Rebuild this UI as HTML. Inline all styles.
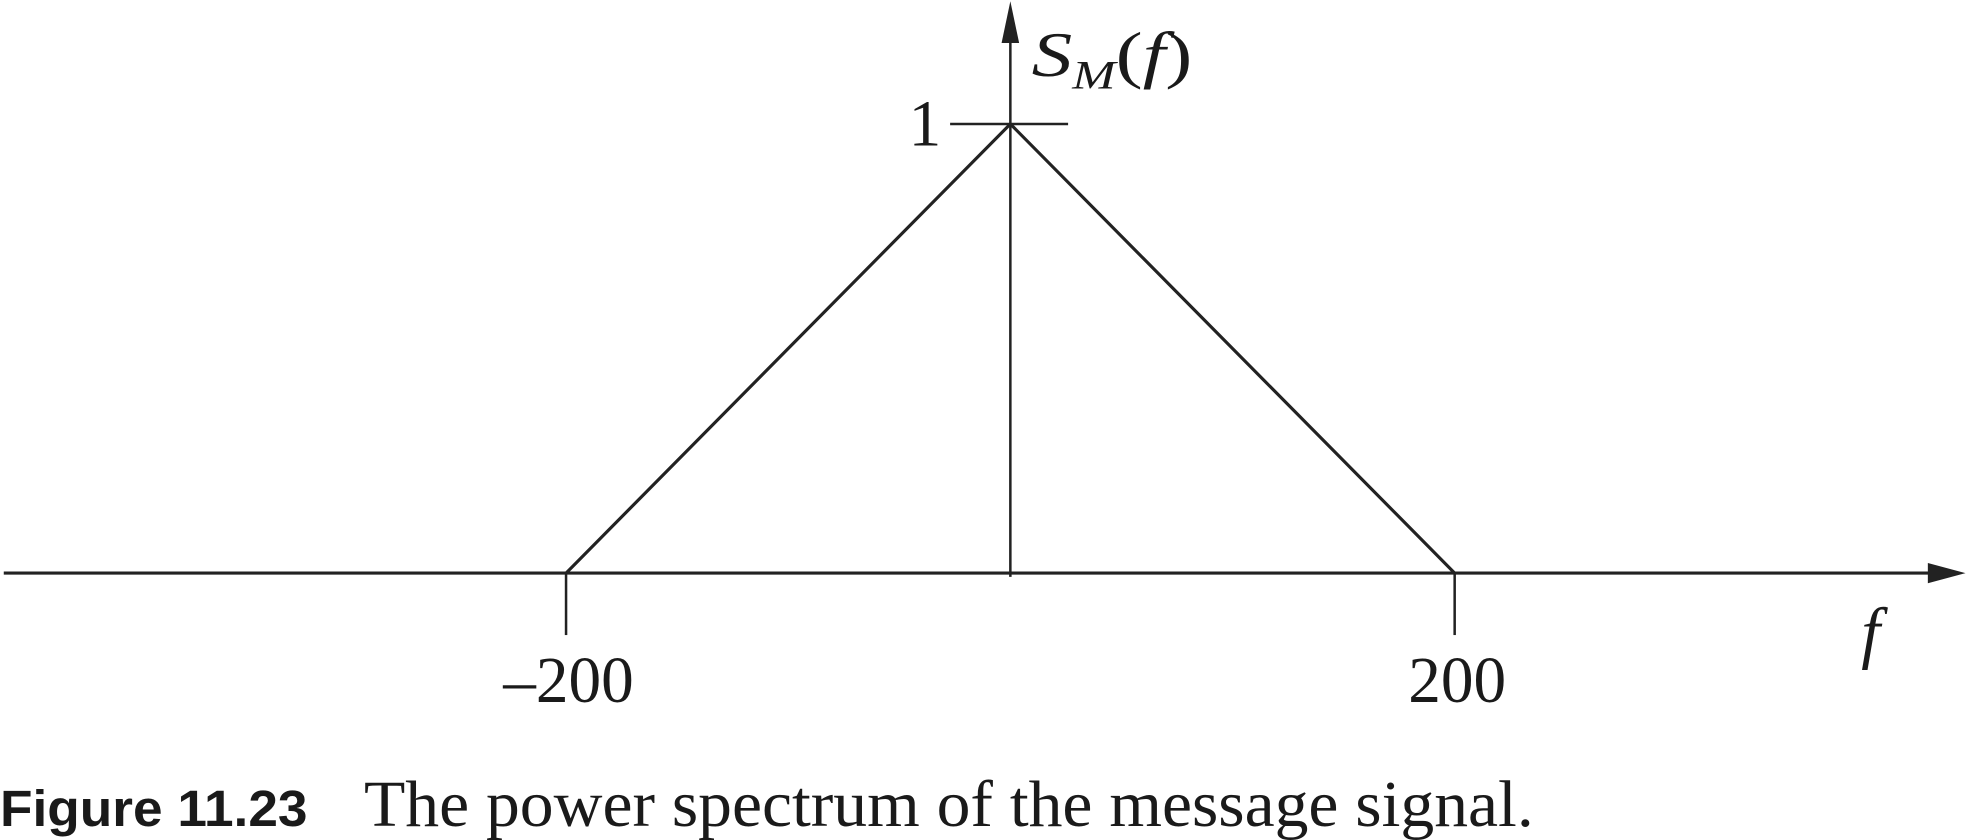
<!DOCTYPE html>
<html><head><meta charset="utf-8"><style>
html,body{margin:0;padding:0;background:#fff;width:1968px;height:840px;overflow:hidden}
svg{display:block}
</style></head><body>
<svg width="1968" height="840" viewBox="0 0 1568 664" preserveAspectRatio="none">
<g id="chart"></g>
<text x="0" y="653" font-family="Liberation Sans, sans-serif" font-weight="bold" font-size="40" fill="#1a1a1a" textLength="245" lengthAdjust="spacingAndGlyphs">Figure 11.23</text>
<text x="290" y="653" font-family="Liberation Serif, serif" font-size="52" fill="#1a1a1a" textLength="932" lengthAdjust="spacingAndGlyphs">The power spectrum of the message signal.</text>
</svg>
<script>
const freqs = [-200, 0, 200];
const values = [0, 1, 0];
const xTicks = [-200, 200];
const xTickLabels = ["\u2013200", "200"];
const yTicks = [1];
const yTickLabels = ["1"];
const NS = "http://www.w3.org/2000/svg";
const g = document.getElementById('chart');
const x0 = 805, xs = (1159 - 805) / 200;
const y0 = 453, ys = 453 - 98;
function X(f){ return x0 + f * xs; }
function Y(v){ return y0 - v * ys; }
function mk(tag, attrs){ const e = document.createElementNS(NS, tag); for (const k in attrs) e.setAttribute(k, attrs[k]); g.appendChild(e); return e; }
let e;
e = mk('line', {x1:3, y1:y0, x2:1540, y2:y0, stroke:'#222', 'stroke-width':2.5});


e = mk('polygon', {points:`1566,${y0} 1536,${y0-8} 1536,${y0+8}`, fill:'#222'});


e = mk('line', {x1:x0, y1:y0+3, x2:x0, y2:28, stroke:'#222', 'stroke-width':2});


e = mk('polygon', {points:`${x0},1 ${x0-7},34 ${x0+7},34`, fill:'#222'});


const pts = freqs.map((f, i) => X(f) + ',' + Y(values[i])).join(' ');
e = mk('polyline', {points:pts, fill:'none', stroke:'#222', 'stroke-width':2.5});


xTicks.forEach((t, i) => {
  let l = mk('line', {x1:X(t), y1:y0, x2:X(t), y2:502, stroke:'#222', 'stroke-width':2});
  
  
  let tx = mk('text', {x:X(t)+2, y:555, 'text-anchor':'middle', 'font-family':'Liberation Serif, serif', 'font-size':'52', fill:'#1a1a1a'});
  tx.textContent = xTickLabels[i];
  
  
});
yTicks.forEach((t, i) => {
  let l = mk('line', {x1:757, y1:Y(t), x2:851, y2:Y(t), stroke:'#222', 'stroke-width':2});
  
  
  let tx = mk('text', {x:750, y:Y(t)+17, 'text-anchor':'end', 'font-family':'Liberation Serif, serif', 'font-size':'52', fill:'#1a1a1a'});
  tx.textContent = yTickLabels[i];
  
  
});
e = mk('text', {x:822, y:60, 'font-family':'Liberation Serif, serif', 'font-size':'50', 'font-style':'italic', fill:'#1a1a1a', textLength:'128', lengthAdjust:'spacingAndGlyphs'});
e.innerHTML = 'S<tspan font-size="32" dy="10">M</tspan><tspan dy="-10" font-style="normal">(</tspan>f<tspan font-style="normal">)</tspan>';


e = mk('text', {x:1483, y:518, 'font-family':'Liberation Serif, serif', 'font-size':'54', 'font-style':'italic', fill:'#1a1a1a'});
e.textContent = 'f';


</script>
</body></html>
